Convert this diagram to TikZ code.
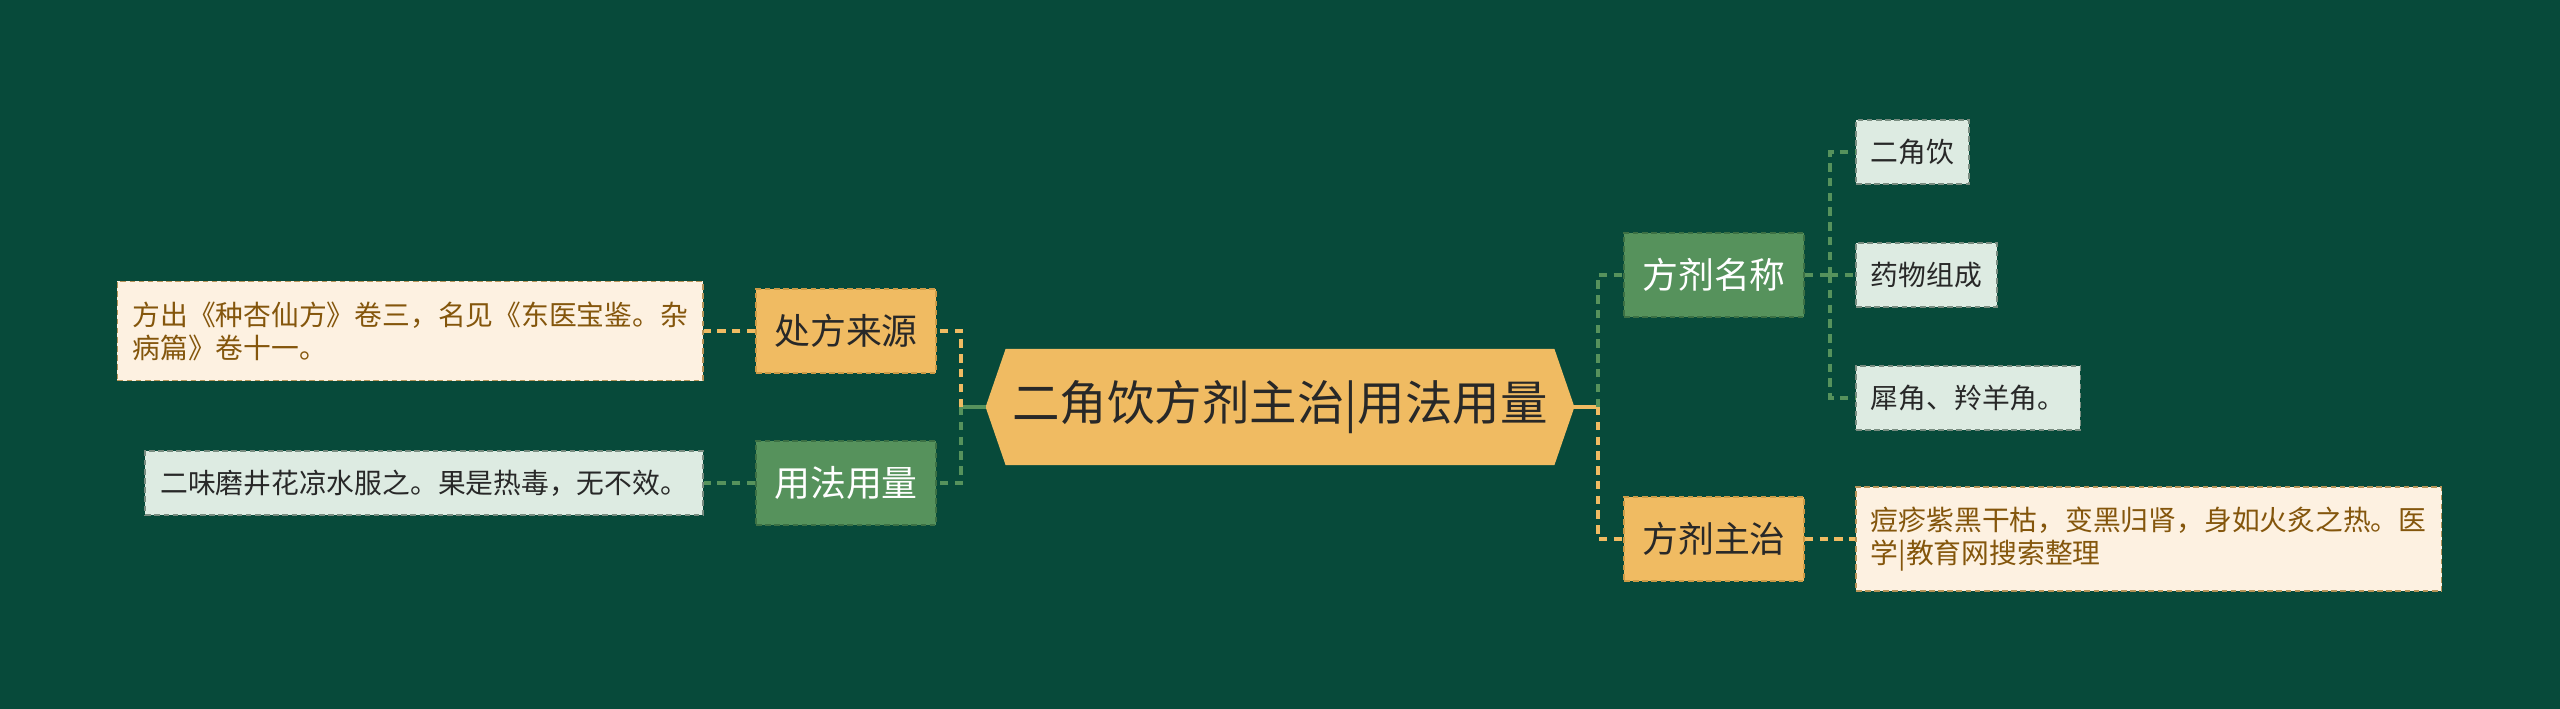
\documentclass[tikz,border=0pt]{standalone}
\usepackage{fontspec}
\setmainfont{Noto Sans CJK SC}
\usetikzlibrary{shapes.symbols}
\definecolor{bg}{RGB}{7,74,58}
\definecolor{gold}{RGB}{240,187,98}
\definecolor{goldedge}{RGB}{205,155,70}
\definecolor{leafgreen}{RGB}{86,146,92}
\definecolor{greenedge}{RGB}{60,112,68}
\definecolor{cream}{RGB}{253,241,225}
\definecolor{creamtext}{RGB}{132,86,12}
\definecolor{pale}{RGB}{221,235,226}
\definecolor{paleedge}{RGB}{120,140,128}
\definecolor{ink}{RGB}{40,40,40}

\tikzset{
  rootbox/.style={signal, signal to=west and east, signal pointer angle=142, fill=gold, draw=gold, text=ink,
    font=\fontsize{13.5}{15}\selectfont, minimum width=5.87cm, minimum height=1.15cm, inner xsep=0pt},
  topicgold/.style={fill=gold, draw=goldedge, dash pattern=on 1.6pt off 1pt, line width=0.5pt, text=ink,
    font=\fontsize{10.2}{12}\selectfont, minimum width=1.8cm, minimum height=0.84cm},
  topicgreen/.style={topicgold, fill=leafgreen, draw=greenedge, text=white},
  leafcream/.style={fill=cream, draw=goldedge!70!gray, dash pattern=on 1.6pt off 1pt, line width=0.5pt, text=creamtext,
    font=\fontsize{7.9}{9.4}\selectfont, align=left, inner xsep=0.15cm, inner ysep=0.2cm},
  leafpale/.style={leafcream, fill=pale, draw=paleedge, text=ink, minimum height=0.64cm, inner ysep=0.1cm},
  goldlink/.style={gold, line width=1.1pt, dash pattern=on 2.4pt off 1.8pt},
  greenlink/.style={leafgreen, line width=1.1pt, dash pattern=on 2.4pt off 1.8pt},
}

\begin{document}
\begin{tikzpicture}[x=0.01cm,y=-0.01cm]
\fill[bg] (0,0) rectangle (2560,709); % background
\useasboundingbox (0,0) rectangle (2560,709);

% root and topics
\node[rootbox] (root) at (1280,407) {二角饮方剂主治|用法用量};
\node[topicgold] (source) at (846,331) {处方来源};
\node[topicgreen] (usage) at (846,483) {用法用量};
\node[topicgreen] (name) at (1714,275) {方剂名称};
\node[topicgold] (indic) at (1714,539) {方剂主治};

% leaves
\node[leafcream,anchor=east] (sourcetxt) at (704,331) {方出《种杏仙方》卷三，名见《东医宝鉴。杂\\病篇》卷十一。};
\node[leafpale,anchor=east] (usagetxt) at (704,483) {二味磨井花凉水服之。果是热毒，无不效。};
\node[leafpale,anchor=west] (n1) at (1855,152) {二角饮};
\node[leafpale,anchor=west] (n2) at (1855,275) {药物组成};
\node[leafpale,anchor=west] (n3) at (1855,398) {犀角、羚羊角。};
\node[leafcream,anchor=west] (indictxt) at (1855,539) {痘疹紫黑干枯，变黑归肾，身如火炙之热。医\\学|教育网搜索整理};

% connectors
\coordinate (jl) at (961,407);
\coordinate (jr) at (1598,407);
\coordinate (jn) at (1830,275);
\draw[leafgreen,line width=1.1pt] (root.west) -- (jl);
\draw[gold,line width=1.1pt] (root.east) -- (jr);
\draw[goldlink] (jl) |- (source.east);
\draw[greenlink] (jl) |- (usage.east);
\draw[greenlink] (jr) |- (name.west);
\draw[goldlink] (jr) |- (indic.west);
\draw[goldlink] (source.west) -- (sourcetxt.east);
\draw[greenlink] (usage.west) -- (usagetxt.east);
\draw[goldlink] (indic.east) -- (indictxt.west);
\draw[greenlink] (name.east) -- (jn);
\draw[greenlink] (jn) |- (n1.west);
\draw[greenlink] (jn) -- (n2.west);
\draw[greenlink] (jn) |- (n3.west);
\end{tikzpicture}
\end{document}
